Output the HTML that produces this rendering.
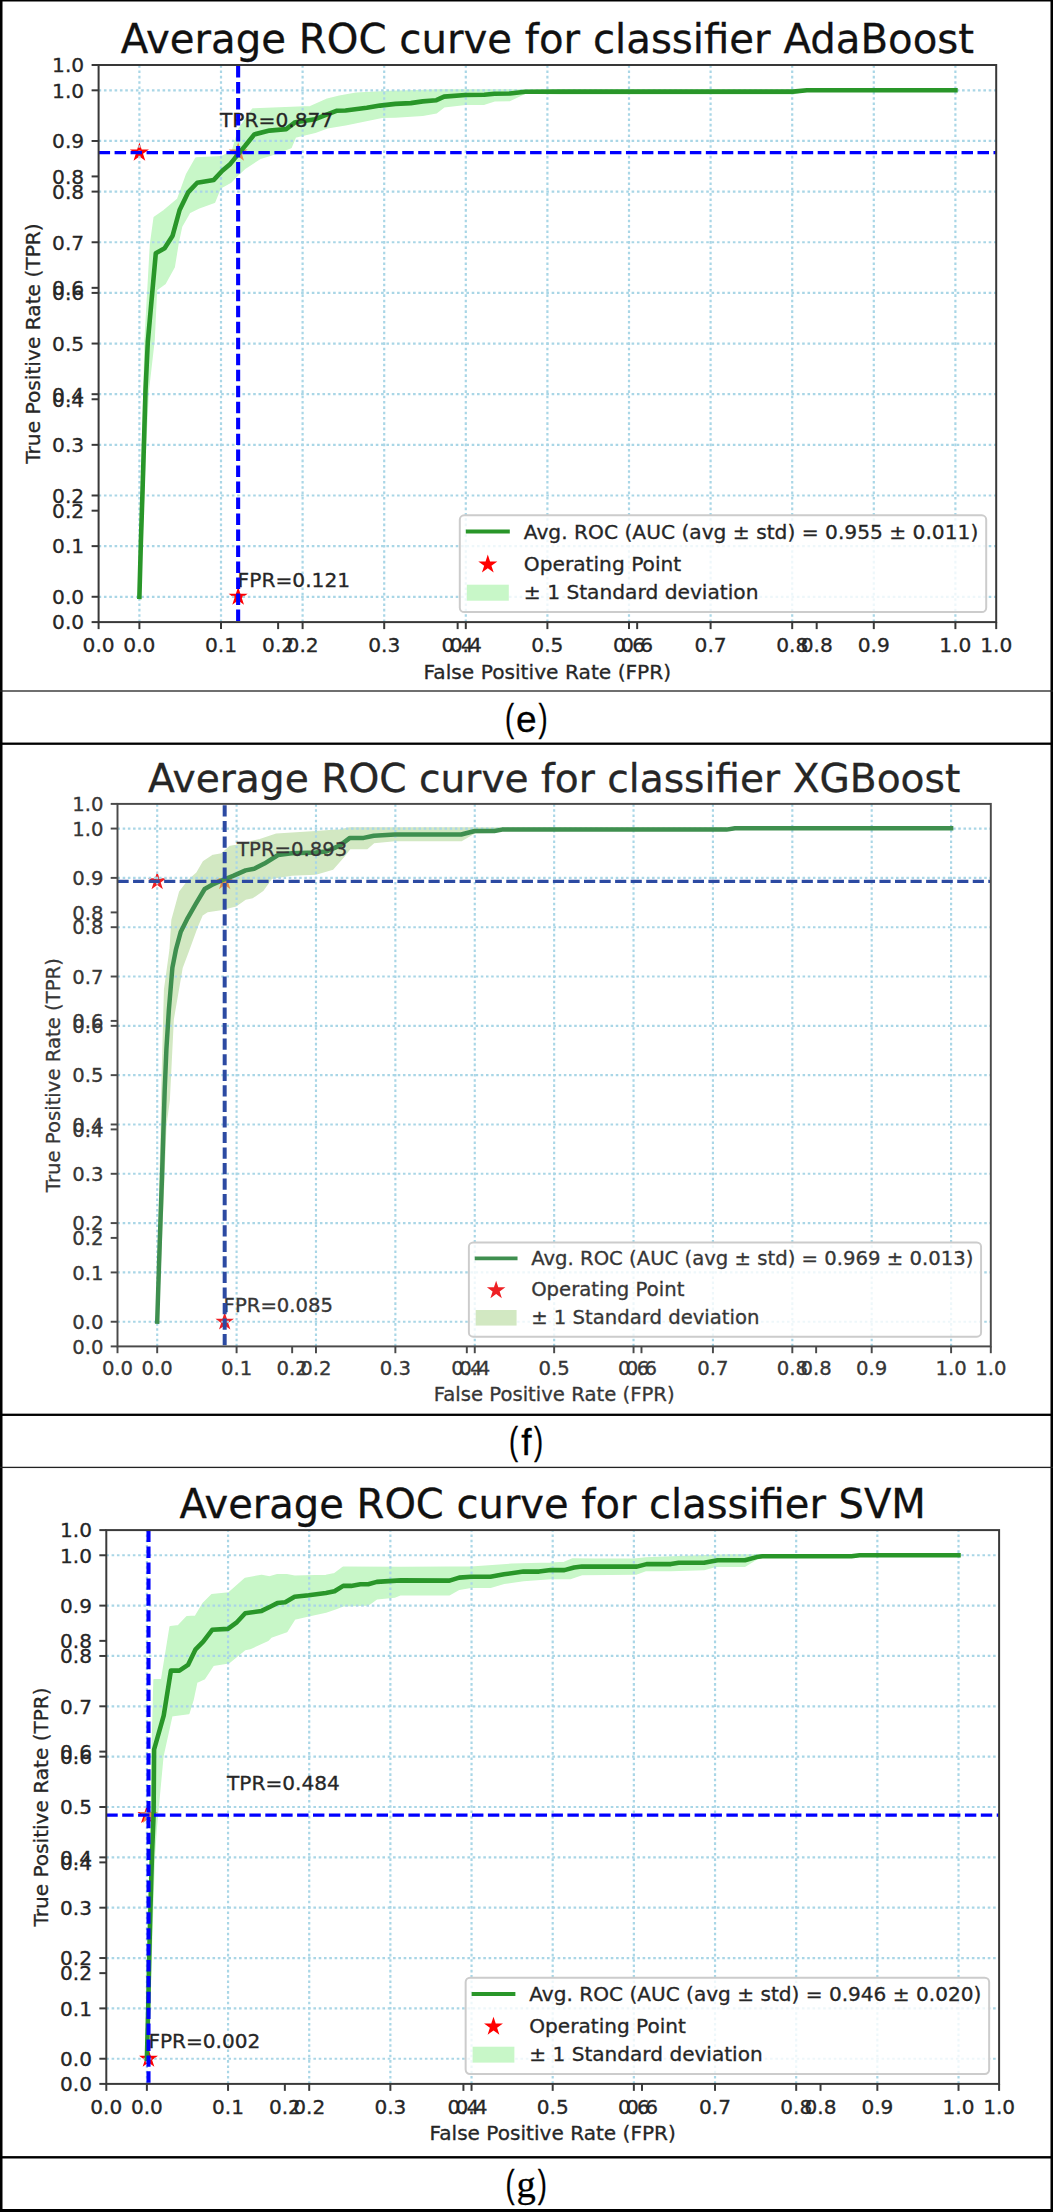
<!DOCTYPE html><html><head><meta charset="utf-8"><title>ROC curves</title><style>
html,body{margin:0;padding:0;background:#fff;}body{width:1053px;height:2212px;overflow:hidden;}
svg{display:block;}
svg text{font-family:'DejaVu Sans', 'Liberation Sans', sans-serif;stroke-width:0.3px;paint-order:stroke;}
.cap{font-family:"Liberation Sans",Arial,sans-serif;}
</style></head><body>
<svg width="1053" height="2212" viewBox="0 0 1053 2212">
<rect x="0" y="0" width="1053" height="2212" fill="#fff"/>
<g>
<clipPath id="c1"><rect x="98.6" y="65" width="897.6" height="557.1"/></clipPath>
<g clip-path="url(#c1)">
<path d="M139.4,596.8 L140.2,544.7 L141.6,491.8 L142.9,441.8 L144.2,390.6 L145.4,340 L150.8,244.5 L154.5,217.5 L164.2,210.7 L177.9,199.3 L187,174.2 L196.1,158.2 L221.2,157.1 L232.6,151.4 L239.1,129.1 L252.8,109.3 L310.5,107 L327.3,99.4 L339.4,96.4 L356.1,93.4 L390,91.8 L440,90.3 L955.4,90.3 L955.4,90.3 L806.9,90.3 L792.9,93.5 L560,93.5 L525.3,92.8 L509.9,100.2 L494.5,100.5 L484.3,103.9 L465.5,103.9 L444.1,106.5 L436.4,112.5 L422.7,115 L395.4,116.8 L382,116.9 L345.5,124.5 L327.3,127.6 L315.1,132.1 L295.3,136.7 L290.8,147.3 L275.6,153.4 L260.4,158 L245.2,167.8 L237.1,175.3 L230.3,182.2 L220,187.9 L214.3,202.1 L198.4,207.8 L189.3,212.4 L181.3,226.6 L177.9,242.6 L173.9,267.1 L164.8,283.4 L156.2,289.7 L153.8,340 L148,390.6 L145.5,441.8 L143.5,491.8 L141.5,544.7 L139.4,596.8 Z" fill="#c8f7c8" stroke="#c8f7c8" stroke-width="2" stroke-linejoin="round"/>
<path d="M139.4,142.62 L137.15,149.53 L129.89,149.53 L135.77,153.8 L133.52,160.71 L139.4,156.44 L145.28,160.71 L143.03,153.8 L148.91,149.53 L141.65,149.53 Z" fill="#ff0000"/>
<path d="M238.14,586.78 L235.89,593.69 L228.63,593.69 L234.5,597.96 L232.26,604.87 L238.14,600.6 L244.01,604.87 L241.77,597.96 L247.65,593.69 L240.38,593.69 Z" fill="#ff0000"/>
<path d="M238.14,142.62 L235.89,149.53 L228.63,149.53 L234.5,153.8 L232.26,160.71 L238.14,156.44 L244.01,160.71 L241.77,153.8 L247.65,149.53 L240.38,149.53 Z" fill="#e58a4e"/>
<line x1="139.4" y1="622.1" x2="139.4" y2="65" stroke="#a9d6e6" stroke-width="2.2" stroke-dasharray="2.6 2.73"/>
<line x1="98.6" y1="596.78" x2="996.2" y2="596.78" stroke="#a9d6e6" stroke-width="2.2" stroke-dasharray="2.6 2.73"/>
<line x1="221" y1="622.1" x2="221" y2="65" stroke="#a9d6e6" stroke-width="2.2" stroke-dasharray="2.6 2.73"/>
<line x1="98.6" y1="546.13" x2="996.2" y2="546.13" stroke="#a9d6e6" stroke-width="2.2" stroke-dasharray="2.6 2.73"/>
<line x1="302.6" y1="622.1" x2="302.6" y2="65" stroke="#a9d6e6" stroke-width="2.2" stroke-dasharray="2.6 2.73"/>
<line x1="98.6" y1="495.49" x2="996.2" y2="495.49" stroke="#a9d6e6" stroke-width="2.2" stroke-dasharray="2.6 2.73"/>
<line x1="384.2" y1="622.1" x2="384.2" y2="65" stroke="#a9d6e6" stroke-width="2.2" stroke-dasharray="2.6 2.73"/>
<line x1="98.6" y1="444.84" x2="996.2" y2="444.84" stroke="#a9d6e6" stroke-width="2.2" stroke-dasharray="2.6 2.73"/>
<line x1="465.8" y1="622.1" x2="465.8" y2="65" stroke="#a9d6e6" stroke-width="2.2" stroke-dasharray="2.6 2.73"/>
<line x1="98.6" y1="394.2" x2="996.2" y2="394.2" stroke="#a9d6e6" stroke-width="2.2" stroke-dasharray="2.6 2.73"/>
<line x1="547.4" y1="622.1" x2="547.4" y2="65" stroke="#a9d6e6" stroke-width="2.2" stroke-dasharray="2.6 2.73"/>
<line x1="98.6" y1="343.55" x2="996.2" y2="343.55" stroke="#a9d6e6" stroke-width="2.2" stroke-dasharray="2.6 2.73"/>
<line x1="629" y1="622.1" x2="629" y2="65" stroke="#a9d6e6" stroke-width="2.2" stroke-dasharray="2.6 2.73"/>
<line x1="98.6" y1="292.9" x2="996.2" y2="292.9" stroke="#a9d6e6" stroke-width="2.2" stroke-dasharray="2.6 2.73"/>
<line x1="710.6" y1="622.1" x2="710.6" y2="65" stroke="#a9d6e6" stroke-width="2.2" stroke-dasharray="2.6 2.73"/>
<line x1="98.6" y1="242.26" x2="996.2" y2="242.26" stroke="#a9d6e6" stroke-width="2.2" stroke-dasharray="2.6 2.73"/>
<line x1="792.2" y1="622.1" x2="792.2" y2="65" stroke="#a9d6e6" stroke-width="2.2" stroke-dasharray="2.6 2.73"/>
<line x1="98.6" y1="191.61" x2="996.2" y2="191.61" stroke="#a9d6e6" stroke-width="2.2" stroke-dasharray="2.6 2.73"/>
<line x1="873.8" y1="622.1" x2="873.8" y2="65" stroke="#a9d6e6" stroke-width="2.2" stroke-dasharray="2.6 2.73"/>
<line x1="98.6" y1="140.97" x2="996.2" y2="140.97" stroke="#a9d6e6" stroke-width="2.2" stroke-dasharray="2.6 2.73"/>
<line x1="955.4" y1="622.1" x2="955.4" y2="65" stroke="#a9d6e6" stroke-width="2.2" stroke-dasharray="2.6 2.73"/>
<line x1="98.6" y1="90.32" x2="996.2" y2="90.32" stroke="#a9d6e6" stroke-width="2.2" stroke-dasharray="2.6 2.73"/>
<path d="M139.4,596.8 L140.8,544.7 L142.5,491.8 L144,441.8 L145.5,390.6 L147.8,342 L155.8,253.2 L164.6,248.3 L172.6,235.7 L179.6,210 L188.1,192.4 L197.2,182.7 L213.8,179.9 L222.3,170.8 L230.3,163.9 L237.6,154.9 L245.2,145.8 L254.3,134.4 L269.5,130.6 L286.2,129.1 L295.3,122.2 L315.1,119.2 L336.4,110.8 L345.5,110.5 L366.8,107.8 L380,105.6 L395.4,103.9 L410.8,103.1 L422.7,101.4 L436.4,100.2 L444.1,96.6 L465.5,95 L484.3,94.8 L494.5,93.7 L509.9,93.5 L525.3,91.8 L560,91.6 L792.9,91.6 L806.9,90.3 L955.4,90.3" fill="none" stroke="#299629" stroke-width="4.6" stroke-linejoin="round" stroke-linecap="square"/>
</g>
<text x="220" y="126.5" font-size="20.2" fill="#262626" stroke="#262626">TPR=0.877</text>
<text x="237.6" y="586.6" font-size="20.2" fill="#262626" stroke="#262626">FPR=0.121</text>
<g clip-path="url(#c1)">
<line x1="98.6" y1="152.62" x2="996.2" y2="152.62" stroke="#0000ff" stroke-width="3.3" stroke-dasharray="11.48 4.5"/>
<line x1="238.14" y1="620.9" x2="238.14" y2="65" stroke="#0000ff" stroke-width="4.1" stroke-dasharray="11.48 4.5"/>
</g>
<rect x="98.6" y="65" width="897.6" height="557.1" fill="none" stroke="#383838" stroke-width="2"/>
<line x1="98.6" y1="622.1" x2="98.6" y2="629.1" stroke="#383838" stroke-width="2"/>
<text x="98.6" y="652" font-size="20.2" fill="#262626" stroke="#262626" text-anchor="middle">0.0</text>
<line x1="91.6" y1="622.1" x2="98.6" y2="622.1" stroke="#383838" stroke-width="2"/>
<text x="84.2" y="629.46" font-size="20.2" fill="#262626" stroke="#262626" text-anchor="end">0.0</text>
<line x1="278.12" y1="622.1" x2="278.12" y2="629.1" stroke="#383838" stroke-width="2"/>
<text x="278.12" y="652" font-size="20.2" fill="#262626" stroke="#262626" text-anchor="middle">0.2</text>
<line x1="91.6" y1="510.68" x2="98.6" y2="510.68" stroke="#383838" stroke-width="2"/>
<text x="84.2" y="518.04" font-size="20.2" fill="#262626" stroke="#262626" text-anchor="end">0.2</text>
<line x1="457.64" y1="622.1" x2="457.64" y2="629.1" stroke="#383838" stroke-width="2"/>
<text x="457.64" y="652" font-size="20.2" fill="#262626" stroke="#262626" text-anchor="middle">0.4</text>
<line x1="91.6" y1="399.26" x2="98.6" y2="399.26" stroke="#383838" stroke-width="2"/>
<text x="84.2" y="406.62" font-size="20.2" fill="#262626" stroke="#262626" text-anchor="end">0.4</text>
<line x1="637.16" y1="622.1" x2="637.16" y2="629.1" stroke="#383838" stroke-width="2"/>
<text x="637.16" y="652" font-size="20.2" fill="#262626" stroke="#262626" text-anchor="middle">0.6</text>
<line x1="91.6" y1="287.84" x2="98.6" y2="287.84" stroke="#383838" stroke-width="2"/>
<text x="84.2" y="295.2" font-size="20.2" fill="#262626" stroke="#262626" text-anchor="end">0.6</text>
<line x1="816.68" y1="622.1" x2="816.68" y2="629.1" stroke="#383838" stroke-width="2"/>
<text x="816.68" y="652" font-size="20.2" fill="#262626" stroke="#262626" text-anchor="middle">0.8</text>
<line x1="91.6" y1="176.42" x2="98.6" y2="176.42" stroke="#383838" stroke-width="2"/>
<text x="84.2" y="183.78" font-size="20.2" fill="#262626" stroke="#262626" text-anchor="end">0.8</text>
<line x1="996.2" y1="622.1" x2="996.2" y2="629.1" stroke="#383838" stroke-width="2"/>
<text x="996.2" y="652" font-size="20.2" fill="#262626" stroke="#262626" text-anchor="middle">1.0</text>
<line x1="91.6" y1="65" x2="98.6" y2="65" stroke="#383838" stroke-width="2"/>
<text x="84.2" y="72.36" font-size="20.2" fill="#262626" stroke="#262626" text-anchor="end">1.0</text>
<line x1="139.4" y1="622.1" x2="139.4" y2="629.1" stroke="#383838" stroke-width="2"/>
<text x="139.4" y="652" font-size="20.2" fill="#262626" stroke="#262626" text-anchor="middle">0.0</text>
<line x1="91.6" y1="596.78" x2="98.6" y2="596.78" stroke="#383838" stroke-width="2"/>
<text x="84.2" y="604.14" font-size="20.2" fill="#262626" stroke="#262626" text-anchor="end">0.0</text>
<line x1="221" y1="622.1" x2="221" y2="629.1" stroke="#383838" stroke-width="2"/>
<text x="221" y="652" font-size="20.2" fill="#262626" stroke="#262626" text-anchor="middle">0.1</text>
<line x1="91.6" y1="546.13" x2="98.6" y2="546.13" stroke="#383838" stroke-width="2"/>
<text x="84.2" y="553.49" font-size="20.2" fill="#262626" stroke="#262626" text-anchor="end">0.1</text>
<line x1="302.6" y1="622.1" x2="302.6" y2="629.1" stroke="#383838" stroke-width="2"/>
<text x="302.6" y="652" font-size="20.2" fill="#262626" stroke="#262626" text-anchor="middle">0.2</text>
<line x1="91.6" y1="495.49" x2="98.6" y2="495.49" stroke="#383838" stroke-width="2"/>
<text x="84.2" y="502.85" font-size="20.2" fill="#262626" stroke="#262626" text-anchor="end">0.2</text>
<line x1="384.2" y1="622.1" x2="384.2" y2="629.1" stroke="#383838" stroke-width="2"/>
<text x="384.2" y="652" font-size="20.2" fill="#262626" stroke="#262626" text-anchor="middle">0.3</text>
<line x1="91.6" y1="444.84" x2="98.6" y2="444.84" stroke="#383838" stroke-width="2"/>
<text x="84.2" y="452.2" font-size="20.2" fill="#262626" stroke="#262626" text-anchor="end">0.3</text>
<line x1="465.8" y1="622.1" x2="465.8" y2="629.1" stroke="#383838" stroke-width="2"/>
<text x="465.8" y="652" font-size="20.2" fill="#262626" stroke="#262626" text-anchor="middle">0.4</text>
<line x1="91.6" y1="394.2" x2="98.6" y2="394.2" stroke="#383838" stroke-width="2"/>
<text x="84.2" y="401.56" font-size="20.2" fill="#262626" stroke="#262626" text-anchor="end">0.4</text>
<line x1="547.4" y1="622.1" x2="547.4" y2="629.1" stroke="#383838" stroke-width="2"/>
<text x="547.4" y="652" font-size="20.2" fill="#262626" stroke="#262626" text-anchor="middle">0.5</text>
<line x1="91.6" y1="343.55" x2="98.6" y2="343.55" stroke="#383838" stroke-width="2"/>
<text x="84.2" y="350.91" font-size="20.2" fill="#262626" stroke="#262626" text-anchor="end">0.5</text>
<line x1="629" y1="622.1" x2="629" y2="629.1" stroke="#383838" stroke-width="2"/>
<text x="629" y="652" font-size="20.2" fill="#262626" stroke="#262626" text-anchor="middle">0.6</text>
<line x1="91.6" y1="292.9" x2="98.6" y2="292.9" stroke="#383838" stroke-width="2"/>
<text x="84.2" y="300.27" font-size="20.2" fill="#262626" stroke="#262626" text-anchor="end">0.6</text>
<line x1="710.6" y1="622.1" x2="710.6" y2="629.1" stroke="#383838" stroke-width="2"/>
<text x="710.6" y="652" font-size="20.2" fill="#262626" stroke="#262626" text-anchor="middle">0.7</text>
<line x1="91.6" y1="242.26" x2="98.6" y2="242.26" stroke="#383838" stroke-width="2"/>
<text x="84.2" y="249.62" font-size="20.2" fill="#262626" stroke="#262626" text-anchor="end">0.7</text>
<line x1="792.2" y1="622.1" x2="792.2" y2="629.1" stroke="#383838" stroke-width="2"/>
<text x="792.2" y="652" font-size="20.2" fill="#262626" stroke="#262626" text-anchor="middle">0.8</text>
<line x1="91.6" y1="191.61" x2="98.6" y2="191.61" stroke="#383838" stroke-width="2"/>
<text x="84.2" y="198.98" font-size="20.2" fill="#262626" stroke="#262626" text-anchor="end">0.8</text>
<line x1="873.8" y1="622.1" x2="873.8" y2="629.1" stroke="#383838" stroke-width="2"/>
<text x="873.8" y="652" font-size="20.2" fill="#262626" stroke="#262626" text-anchor="middle">0.9</text>
<line x1="91.6" y1="140.97" x2="98.6" y2="140.97" stroke="#383838" stroke-width="2"/>
<text x="84.2" y="148.33" font-size="20.2" fill="#262626" stroke="#262626" text-anchor="end">0.9</text>
<line x1="955.4" y1="622.1" x2="955.4" y2="629.1" stroke="#383838" stroke-width="2"/>
<text x="955.4" y="652" font-size="20.2" fill="#262626" stroke="#262626" text-anchor="middle">1.0</text>
<line x1="91.6" y1="90.32" x2="98.6" y2="90.32" stroke="#383838" stroke-width="2"/>
<text x="84.2" y="97.69" font-size="20.2" fill="#262626" stroke="#262626" text-anchor="end">1.0</text>
<text x="547.4" y="678.7" font-size="20.2" fill="#262626" stroke="#262626" text-anchor="middle">False Positive Rate (FPR)</text>
<text x="39.6" y="343.55" font-size="20.2" fill="#262626" stroke="#262626" text-anchor="middle" transform="rotate(-90 39.6 343.55)">True Positive Rate (TPR)</text>
<text x="547.4" y="52.6" font-size="40.24" fill="#111" stroke="#111" text-anchor="middle">Average ROC curve for classifier AdaBoost</text>
<rect x="459.8" y="515.3" width="526.4" height="96.8" rx="4.4" fill="#fff" fill-opacity="0.8" stroke="#ccc" stroke-width="2"/>
<line x1="467.8" y1="531.6" x2="507.8" y2="531.6" stroke="#299629" stroke-width="4" stroke-linecap="square"/>
<path d="M487.8,554.5 L485.55,561.41 L478.29,561.41 L484.17,565.68 L481.92,572.59 L487.8,568.32 L493.68,572.59 L491.43,565.68 L497.31,561.41 L490.05,561.41 Z" fill="#ff0000"/>
<rect x="467.8" y="585.7" width="40" height="14" fill="#c8f7c8" stroke="#c8f7c8" stroke-width="2"/>
<text x="523.8" y="538.5" font-size="20.2" fill="#262626" stroke="#262626">Avg. ROC (AUC (avg ± std) = 0.955 ± 0.011)</text>
<text x="523.8" y="570.7" font-size="20.2" fill="#262626" stroke="#262626">Operating Point</text>
<text x="523.8" y="598.9" font-size="20.2" fill="#262626" stroke="#262626">± 1 Standard deviation</text>
</g>
<g>
<clipPath id="c2"><rect x="117.5" y="803.9" width="873.3" height="542.5"/></clipPath>
<g clip-path="url(#c2)">
<path d="M157.2,1321.7 L158,1274.8 L159.2,1225.9 L160.4,1177 L161.6,1124.8 L161.9,1100.1 L164.9,989.4 L170.4,949.7 L172.3,920 L179.9,892.2 L188.5,880.8 L197,873.2 L203.7,861.8 L213.2,855.6 L221.7,854.2 L230.3,846.6 L236,845.6 L260,839.9 L276.4,834.5 L315.7,832 L339.7,830.3 L350,828.3 L951.1,828.3 L951.1,828.3 L735,828.3 L726.5,829.8 L502.1,829.8 L494.3,832.1 L474.8,832.5 L461.2,840.3 L395,840.3 L373.8,842.2 L367,848.2 L349.9,848.2 L343.1,856.8 L332.8,868.7 L315.7,873.8 L291.8,874.7 L271.3,878.1 L262.7,890.1 L252.5,897.3 L245.5,898.8 L236,905.5 L220.8,909.3 L207.5,911.2 L201.8,915 L196.8,926.8 L187.8,951.6 L181.8,967.6 L172.9,1019.3 L168.9,1100.1 L165.6,1124.8 L163.6,1177 L161.6,1225.9 L159.6,1274.8 L157.2,1321.7 Z" fill="#d2e8c2" stroke="#d2e8c2" stroke-width="1.95" stroke-linejoin="round"/>
<path d="M157.2,871.6 L155.01,878.32 L147.94,878.32 L153.66,882.48 L151.48,889.2 L157.2,885.05 L162.91,889.2 L160.73,882.48 L166.45,878.32 L159.38,878.32 Z" fill="#ee2024"/>
<path d="M224.68,1312.01 L222.49,1318.73 L215.42,1318.73 L221.14,1322.89 L218.96,1329.61 L224.68,1325.46 L230.4,1329.61 L228.21,1322.89 L233.93,1318.73 L226.86,1318.73 Z" fill="#ee2024"/>
<path d="M224.68,871.6 L222.49,878.32 L215.42,878.32 L221.14,882.48 L218.96,889.2 L224.68,885.05 L230.4,889.2 L228.21,882.48 L233.93,878.32 L226.86,878.32 Z" fill="#e0904a"/>
<line x1="157.2" y1="1346.4" x2="157.2" y2="803.9" stroke="#a9d6e6" stroke-width="2.14" stroke-dasharray="2.53 2.66"/>
<line x1="117.5" y1="1321.74" x2="990.8" y2="1321.74" stroke="#a9d6e6" stroke-width="2.14" stroke-dasharray="2.53 2.66"/>
<line x1="236.59" y1="1346.4" x2="236.59" y2="803.9" stroke="#a9d6e6" stroke-width="2.14" stroke-dasharray="2.53 2.66"/>
<line x1="117.5" y1="1272.42" x2="990.8" y2="1272.42" stroke="#a9d6e6" stroke-width="2.14" stroke-dasharray="2.53 2.66"/>
<line x1="315.98" y1="1346.4" x2="315.98" y2="803.9" stroke="#a9d6e6" stroke-width="2.14" stroke-dasharray="2.53 2.66"/>
<line x1="117.5" y1="1223.1" x2="990.8" y2="1223.1" stroke="#a9d6e6" stroke-width="2.14" stroke-dasharray="2.53 2.66"/>
<line x1="395.37" y1="1346.4" x2="395.37" y2="803.9" stroke="#a9d6e6" stroke-width="2.14" stroke-dasharray="2.53 2.66"/>
<line x1="117.5" y1="1173.79" x2="990.8" y2="1173.79" stroke="#a9d6e6" stroke-width="2.14" stroke-dasharray="2.53 2.66"/>
<line x1="474.76" y1="1346.4" x2="474.76" y2="803.9" stroke="#a9d6e6" stroke-width="2.14" stroke-dasharray="2.53 2.66"/>
<line x1="117.5" y1="1124.47" x2="990.8" y2="1124.47" stroke="#a9d6e6" stroke-width="2.14" stroke-dasharray="2.53 2.66"/>
<line x1="554.15" y1="1346.4" x2="554.15" y2="803.9" stroke="#a9d6e6" stroke-width="2.14" stroke-dasharray="2.53 2.66"/>
<line x1="117.5" y1="1075.15" x2="990.8" y2="1075.15" stroke="#a9d6e6" stroke-width="2.14" stroke-dasharray="2.53 2.66"/>
<line x1="633.54" y1="1346.4" x2="633.54" y2="803.9" stroke="#a9d6e6" stroke-width="2.14" stroke-dasharray="2.53 2.66"/>
<line x1="117.5" y1="1025.83" x2="990.8" y2="1025.83" stroke="#a9d6e6" stroke-width="2.14" stroke-dasharray="2.53 2.66"/>
<line x1="712.93" y1="1346.4" x2="712.93" y2="803.9" stroke="#a9d6e6" stroke-width="2.14" stroke-dasharray="2.53 2.66"/>
<line x1="117.5" y1="976.51" x2="990.8" y2="976.51" stroke="#a9d6e6" stroke-width="2.14" stroke-dasharray="2.53 2.66"/>
<line x1="792.32" y1="1346.4" x2="792.32" y2="803.9" stroke="#a9d6e6" stroke-width="2.14" stroke-dasharray="2.53 2.66"/>
<line x1="117.5" y1="927.2" x2="990.8" y2="927.2" stroke="#a9d6e6" stroke-width="2.14" stroke-dasharray="2.53 2.66"/>
<line x1="871.71" y1="1346.4" x2="871.71" y2="803.9" stroke="#a9d6e6" stroke-width="2.14" stroke-dasharray="2.53 2.66"/>
<line x1="117.5" y1="877.88" x2="990.8" y2="877.88" stroke="#a9d6e6" stroke-width="2.14" stroke-dasharray="2.53 2.66"/>
<line x1="951.1" y1="1346.4" x2="951.1" y2="803.9" stroke="#a9d6e6" stroke-width="2.14" stroke-dasharray="2.53 2.66"/>
<line x1="117.5" y1="828.56" x2="990.8" y2="828.56" stroke="#a9d6e6" stroke-width="2.14" stroke-dasharray="2.53 2.66"/>
<path d="M157.2,1321.7 L158.7,1274.8 L160.3,1225.9 L162,1177 L163.6,1124.8 L164.7,1090 L166.4,1049.2 L168.9,1009.4 L172.4,967.6 L175.9,949.7 L180.8,931.7 L187.8,917.8 L195.8,903.9 L204.7,889 L211.7,885 L223.4,879.8 L233.7,875.6 L245.6,870.4 L254.2,868.7 L264.4,863.6 L278.1,855 L291.8,853.3 L315.7,852.5 L326,851.6 L339.7,845.6 L349.9,837.9 L363.6,837.9 L373.8,835.7 L395,834.5 L461.2,834.5 L474.8,831 L494.3,831 L502.1,829.6 L726.5,829.6 L735,828.3 L951.1,828.3" fill="none" stroke="#3f8f4f" stroke-width="4.48" stroke-linejoin="round" stroke-linecap="square"/>
</g>
<text x="237.1" y="856.2" font-size="19.65" fill="#363636" stroke="#363636">TPR=0.893</text>
<text x="223.6" y="1311.7" font-size="19.65" fill="#363636" stroke="#363636">FPR=0.085</text>
<g clip-path="url(#c2)">
<line x1="117.5" y1="881.33" x2="990.8" y2="881.33" stroke="#2c4aa2" stroke-width="3.21" stroke-dasharray="11.17 4.38"/>
<line x1="224.68" y1="1345.23" x2="224.68" y2="803.9" stroke="#2c4aa2" stroke-width="3.99" stroke-dasharray="11.17 4.38"/>
</g>
<rect x="117.5" y="803.9" width="873.3" height="542.5" fill="none" stroke="#4a4a4a" stroke-width="1.95"/>
<line x1="117.5" y1="1346.4" x2="117.5" y2="1353.21" stroke="#4a4a4a" stroke-width="1.95"/>
<text x="117.5" y="1375.49" font-size="19.65" fill="#363636" stroke="#363636" text-anchor="middle">0.0</text>
<line x1="110.69" y1="1346.4" x2="117.5" y2="1346.4" stroke="#4a4a4a" stroke-width="1.95"/>
<text x="103.49" y="1353.56" font-size="19.65" fill="#363636" stroke="#363636" text-anchor="end">0.0</text>
<line x1="292.16" y1="1346.4" x2="292.16" y2="1353.21" stroke="#4a4a4a" stroke-width="1.95"/>
<text x="292.16" y="1375.49" font-size="19.65" fill="#363636" stroke="#363636" text-anchor="middle">0.2</text>
<line x1="110.69" y1="1237.9" x2="117.5" y2="1237.9" stroke="#4a4a4a" stroke-width="1.95"/>
<text x="103.49" y="1245.06" font-size="19.65" fill="#363636" stroke="#363636" text-anchor="end">0.2</text>
<line x1="466.82" y1="1346.4" x2="466.82" y2="1353.21" stroke="#4a4a4a" stroke-width="1.95"/>
<text x="466.82" y="1375.49" font-size="19.65" fill="#363636" stroke="#363636" text-anchor="middle">0.4</text>
<line x1="110.69" y1="1129.4" x2="117.5" y2="1129.4" stroke="#4a4a4a" stroke-width="1.95"/>
<text x="103.49" y="1136.56" font-size="19.65" fill="#363636" stroke="#363636" text-anchor="end">0.4</text>
<line x1="641.48" y1="1346.4" x2="641.48" y2="1353.21" stroke="#4a4a4a" stroke-width="1.95"/>
<text x="641.48" y="1375.49" font-size="19.65" fill="#363636" stroke="#363636" text-anchor="middle">0.6</text>
<line x1="110.69" y1="1020.9" x2="117.5" y2="1020.9" stroke="#4a4a4a" stroke-width="1.95"/>
<text x="103.49" y="1028.06" font-size="19.65" fill="#363636" stroke="#363636" text-anchor="end">0.6</text>
<line x1="816.14" y1="1346.4" x2="816.14" y2="1353.21" stroke="#4a4a4a" stroke-width="1.95"/>
<text x="816.14" y="1375.49" font-size="19.65" fill="#363636" stroke="#363636" text-anchor="middle">0.8</text>
<line x1="110.69" y1="912.4" x2="117.5" y2="912.4" stroke="#4a4a4a" stroke-width="1.95"/>
<text x="103.49" y="919.56" font-size="19.65" fill="#363636" stroke="#363636" text-anchor="end">0.8</text>
<line x1="990.8" y1="1346.4" x2="990.8" y2="1353.21" stroke="#4a4a4a" stroke-width="1.95"/>
<text x="990.8" y="1375.49" font-size="19.65" fill="#363636" stroke="#363636" text-anchor="middle">1.0</text>
<line x1="110.69" y1="803.9" x2="117.5" y2="803.9" stroke="#4a4a4a" stroke-width="1.95"/>
<text x="103.49" y="811.06" font-size="19.65" fill="#363636" stroke="#363636" text-anchor="end">1.0</text>
<line x1="157.2" y1="1346.4" x2="157.2" y2="1353.21" stroke="#4a4a4a" stroke-width="1.95"/>
<text x="157.2" y="1375.49" font-size="19.65" fill="#363636" stroke="#363636" text-anchor="middle">0.0</text>
<line x1="110.69" y1="1321.74" x2="117.5" y2="1321.74" stroke="#4a4a4a" stroke-width="1.95"/>
<text x="103.49" y="1328.91" font-size="19.65" fill="#363636" stroke="#363636" text-anchor="end">0.0</text>
<line x1="236.59" y1="1346.4" x2="236.59" y2="1353.21" stroke="#4a4a4a" stroke-width="1.95"/>
<text x="236.59" y="1375.49" font-size="19.65" fill="#363636" stroke="#363636" text-anchor="middle">0.1</text>
<line x1="110.69" y1="1272.42" x2="117.5" y2="1272.42" stroke="#4a4a4a" stroke-width="1.95"/>
<text x="103.49" y="1279.59" font-size="19.65" fill="#363636" stroke="#363636" text-anchor="end">0.1</text>
<line x1="315.98" y1="1346.4" x2="315.98" y2="1353.21" stroke="#4a4a4a" stroke-width="1.95"/>
<text x="315.98" y="1375.49" font-size="19.65" fill="#363636" stroke="#363636" text-anchor="middle">0.2</text>
<line x1="110.69" y1="1223.1" x2="117.5" y2="1223.1" stroke="#4a4a4a" stroke-width="1.95"/>
<text x="103.49" y="1230.27" font-size="19.65" fill="#363636" stroke="#363636" text-anchor="end">0.2</text>
<line x1="395.37" y1="1346.4" x2="395.37" y2="1353.21" stroke="#4a4a4a" stroke-width="1.95"/>
<text x="395.37" y="1375.49" font-size="19.65" fill="#363636" stroke="#363636" text-anchor="middle">0.3</text>
<line x1="110.69" y1="1173.79" x2="117.5" y2="1173.79" stroke="#4a4a4a" stroke-width="1.95"/>
<text x="103.49" y="1180.95" font-size="19.65" fill="#363636" stroke="#363636" text-anchor="end">0.3</text>
<line x1="474.76" y1="1346.4" x2="474.76" y2="1353.21" stroke="#4a4a4a" stroke-width="1.95"/>
<text x="474.76" y="1375.49" font-size="19.65" fill="#363636" stroke="#363636" text-anchor="middle">0.4</text>
<line x1="110.69" y1="1124.47" x2="117.5" y2="1124.47" stroke="#4a4a4a" stroke-width="1.95"/>
<text x="103.49" y="1131.63" font-size="19.65" fill="#363636" stroke="#363636" text-anchor="end">0.4</text>
<line x1="554.15" y1="1346.4" x2="554.15" y2="1353.21" stroke="#4a4a4a" stroke-width="1.95"/>
<text x="554.15" y="1375.49" font-size="19.65" fill="#363636" stroke="#363636" text-anchor="middle">0.5</text>
<line x1="110.69" y1="1075.15" x2="117.5" y2="1075.15" stroke="#4a4a4a" stroke-width="1.95"/>
<text x="103.49" y="1082.31" font-size="19.65" fill="#363636" stroke="#363636" text-anchor="end">0.5</text>
<line x1="633.54" y1="1346.4" x2="633.54" y2="1353.21" stroke="#4a4a4a" stroke-width="1.95"/>
<text x="633.54" y="1375.49" font-size="19.65" fill="#363636" stroke="#363636" text-anchor="middle">0.6</text>
<line x1="110.69" y1="1025.83" x2="117.5" y2="1025.83" stroke="#4a4a4a" stroke-width="1.95"/>
<text x="103.49" y="1033" font-size="19.65" fill="#363636" stroke="#363636" text-anchor="end">0.6</text>
<line x1="712.93" y1="1346.4" x2="712.93" y2="1353.21" stroke="#4a4a4a" stroke-width="1.95"/>
<text x="712.93" y="1375.49" font-size="19.65" fill="#363636" stroke="#363636" text-anchor="middle">0.7</text>
<line x1="110.69" y1="976.51" x2="117.5" y2="976.51" stroke="#4a4a4a" stroke-width="1.95"/>
<text x="103.49" y="983.68" font-size="19.65" fill="#363636" stroke="#363636" text-anchor="end">0.7</text>
<line x1="792.32" y1="1346.4" x2="792.32" y2="1353.21" stroke="#4a4a4a" stroke-width="1.95"/>
<text x="792.32" y="1375.49" font-size="19.65" fill="#363636" stroke="#363636" text-anchor="middle">0.8</text>
<line x1="110.69" y1="927.2" x2="117.5" y2="927.2" stroke="#4a4a4a" stroke-width="1.95"/>
<text x="103.49" y="934.36" font-size="19.65" fill="#363636" stroke="#363636" text-anchor="end">0.8</text>
<line x1="871.71" y1="1346.4" x2="871.71" y2="1353.21" stroke="#4a4a4a" stroke-width="1.95"/>
<text x="871.71" y="1375.49" font-size="19.65" fill="#363636" stroke="#363636" text-anchor="middle">0.9</text>
<line x1="110.69" y1="877.88" x2="117.5" y2="877.88" stroke="#4a4a4a" stroke-width="1.95"/>
<text x="103.49" y="885.04" font-size="19.65" fill="#363636" stroke="#363636" text-anchor="end">0.9</text>
<line x1="951.1" y1="1346.4" x2="951.1" y2="1353.21" stroke="#4a4a4a" stroke-width="1.95"/>
<text x="951.1" y="1375.49" font-size="19.65" fill="#363636" stroke="#363636" text-anchor="middle">1.0</text>
<line x1="110.69" y1="828.56" x2="117.5" y2="828.56" stroke="#4a4a4a" stroke-width="1.95"/>
<text x="103.49" y="835.72" font-size="19.65" fill="#363636" stroke="#363636" text-anchor="end">1.0</text>
<text x="554.15" y="1401.47" font-size="19.65" fill="#363636" stroke="#363636" text-anchor="middle">False Positive Rate (FPR)</text>
<text x="60.09" y="1075.15" font-size="19.65" fill="#363636" stroke="#363636" text-anchor="middle" transform="rotate(-90 60.09 1075.15)">True Positive Rate (TPR)</text>
<text x="554.15" y="791.83" font-size="39.15" fill="#262626" stroke="#262626" text-anchor="middle">Average ROC curve for classifier XGBoost</text>
<rect x="468.88" y="1242.48" width="512.19" height="94.19" rx="4.28" fill="#fff" fill-opacity="0.8" stroke="#ccc" stroke-width="1.95"/>
<line x1="476.67" y1="1258.34" x2="515.59" y2="1258.34" stroke="#3f8f4f" stroke-width="3.89" stroke-linecap="square"/>
<path d="M496.13,1280.63 L493.94,1287.35 L486.87,1287.35 L492.59,1291.5 L490.41,1298.23 L496.13,1294.07 L501.85,1298.23 L499.66,1291.5 L505.38,1287.35 L498.31,1287.35 Z" fill="#ee2024"/>
<rect x="476.67" y="1310.98" width="38.92" height="13.62" fill="#d2e8c2" stroke="#d2e8c2" stroke-width="1.95"/>
<text x="531.15" y="1265.06" font-size="19.65" fill="#363636" stroke="#363636">Avg. ROC (AUC (avg ± std) = 0.969 ± 0.013)</text>
<text x="531.15" y="1296.39" font-size="19.65" fill="#363636" stroke="#363636">Operating Point</text>
<text x="531.15" y="1323.83" font-size="19.65" fill="#363636" stroke="#363636">± 1 Standard deviation</text>
</g>
<g>
<clipPath id="c3"><rect x="106.3" y="1530.1" width="892.8" height="553.8"/></clipPath>
<g clip-path="url(#c3)">
<path d="M146.9,2058.7 L147,2007.6 L147.8,1958.7 L148.8,1909.9 L150.2,1857.4 L151.6,1815 L152.5,1749.5 L153.8,1700 L154.3,1680.1 L161.9,1679.7 L170.4,1627 L178.5,1626 L187,1617 L195.6,1616.5 L203.2,1603.7 L211.7,1595.1 L228.8,1593.2 L245.2,1578.8 L261.6,1575.7 L269.5,1577.2 L277.3,1574.9 L286.7,1574.9 L294.6,1576.5 L325.9,1575.7 L334.5,1574.1 L343.2,1567.5 L400,1567.8 L449.5,1567.5 L470.9,1567.5 L511.8,1564.6 L550.7,1563.6 L564.4,1562.7 L572.1,1559.3 L595,1559.6 L633.9,1559.6 L645.6,1558.2 L711.8,1555.7 L730,1555.3 L958.5,1555.3 L958.5,1555.3 L859.6,1555.3 L851.5,1557.1 L762.4,1557.1 L756.6,1558.6 L744.9,1566 L715.7,1566 L704,1569.3 L670.9,1570.3 L645.6,1570.3 L635.9,1573.8 L581.9,1574.3 L570.2,1578.2 L550.7,1578.2 L523.5,1580.2 L504,1583.1 L490.4,1587 L470.9,1587 L459.2,1588.9 L449.5,1594.4 L400.8,1594.4 L395,1596.7 L376.8,1598.4 L368.2,1604.7 L343.2,1605.5 L335.3,1608.6 L325.9,1611.7 L308.7,1615.6 L294.6,1618.8 L286.7,1631.3 L271.1,1636.8 L267.9,1640.1 L250,1648.3 L245,1649.3 L228.8,1662.6 L213.2,1664.9 L204.1,1678.7 L196.5,1682 L192.7,1700 L188.6,1713.3 L171.6,1715.6 L162.6,1756.3 L155.8,1830 L154,1857.4 L152.3,1909.9 L150.8,1958.7 L149.5,2007.6 L146.9,2058.7 Z" fill="#c8f7c8" stroke="#c8f7c8" stroke-width="1.99" stroke-linejoin="round"/>
<path d="M146.88,1805.11 L144.65,1811.98 L137.42,1811.98 L143.27,1816.23 L141.04,1823.1 L146.88,1818.85 L152.73,1823.1 L150.49,1816.23 L156.34,1811.98 L149.11,1811.98 Z" fill="#ff0000"/>
<path d="M148.51,2048.78 L146.27,2055.65 L139.05,2055.65 L144.89,2059.9 L142.66,2066.77 L148.51,2062.53 L154.35,2066.77 L152.12,2059.9 L157.96,2055.65 L150.74,2055.65 Z" fill="#ff0000"/>
<path d="M148.51,1805.11 L146.27,1811.98 L139.05,1811.98 L144.89,1816.23 L142.66,1823.1 L148.51,1818.85 L154.35,1823.1 L152.12,1816.23 L157.96,1811.98 L150.74,1811.98 Z" fill="#e58a4e"/>
<line x1="146.88" y1="2083.9" x2="146.88" y2="1530.1" stroke="#a9d6e6" stroke-width="2.19" stroke-dasharray="2.59 2.72"/>
<line x1="106.3" y1="2058.73" x2="999.1" y2="2058.73" stroke="#a9d6e6" stroke-width="2.19" stroke-dasharray="2.59 2.72"/>
<line x1="228.05" y1="2083.9" x2="228.05" y2="1530.1" stroke="#a9d6e6" stroke-width="2.19" stroke-dasharray="2.59 2.72"/>
<line x1="106.3" y1="2008.38" x2="999.1" y2="2008.38" stroke="#a9d6e6" stroke-width="2.19" stroke-dasharray="2.59 2.72"/>
<line x1="309.21" y1="2083.9" x2="309.21" y2="1530.1" stroke="#a9d6e6" stroke-width="2.19" stroke-dasharray="2.59 2.72"/>
<line x1="106.3" y1="1958.04" x2="999.1" y2="1958.04" stroke="#a9d6e6" stroke-width="2.19" stroke-dasharray="2.59 2.72"/>
<line x1="390.37" y1="2083.9" x2="390.37" y2="1530.1" stroke="#a9d6e6" stroke-width="2.19" stroke-dasharray="2.59 2.72"/>
<line x1="106.3" y1="1907.69" x2="999.1" y2="1907.69" stroke="#a9d6e6" stroke-width="2.19" stroke-dasharray="2.59 2.72"/>
<line x1="471.54" y1="2083.9" x2="471.54" y2="1530.1" stroke="#a9d6e6" stroke-width="2.19" stroke-dasharray="2.59 2.72"/>
<line x1="106.3" y1="1857.35" x2="999.1" y2="1857.35" stroke="#a9d6e6" stroke-width="2.19" stroke-dasharray="2.59 2.72"/>
<line x1="552.7" y1="2083.9" x2="552.7" y2="1530.1" stroke="#a9d6e6" stroke-width="2.19" stroke-dasharray="2.59 2.72"/>
<line x1="106.3" y1="1807" x2="999.1" y2="1807" stroke="#a9d6e6" stroke-width="2.19" stroke-dasharray="2.59 2.72"/>
<line x1="633.86" y1="2083.9" x2="633.86" y2="1530.1" stroke="#a9d6e6" stroke-width="2.19" stroke-dasharray="2.59 2.72"/>
<line x1="106.3" y1="1756.65" x2="999.1" y2="1756.65" stroke="#a9d6e6" stroke-width="2.19" stroke-dasharray="2.59 2.72"/>
<line x1="715.03" y1="2083.9" x2="715.03" y2="1530.1" stroke="#a9d6e6" stroke-width="2.19" stroke-dasharray="2.59 2.72"/>
<line x1="106.3" y1="1706.31" x2="999.1" y2="1706.31" stroke="#a9d6e6" stroke-width="2.19" stroke-dasharray="2.59 2.72"/>
<line x1="796.19" y1="2083.9" x2="796.19" y2="1530.1" stroke="#a9d6e6" stroke-width="2.19" stroke-dasharray="2.59 2.72"/>
<line x1="106.3" y1="1655.96" x2="999.1" y2="1655.96" stroke="#a9d6e6" stroke-width="2.19" stroke-dasharray="2.59 2.72"/>
<line x1="877.35" y1="2083.9" x2="877.35" y2="1530.1" stroke="#a9d6e6" stroke-width="2.19" stroke-dasharray="2.59 2.72"/>
<line x1="106.3" y1="1605.62" x2="999.1" y2="1605.62" stroke="#a9d6e6" stroke-width="2.19" stroke-dasharray="2.59 2.72"/>
<line x1="958.52" y1="2083.9" x2="958.52" y2="1530.1" stroke="#a9d6e6" stroke-width="2.19" stroke-dasharray="2.59 2.72"/>
<line x1="106.3" y1="1555.27" x2="999.1" y2="1555.27" stroke="#a9d6e6" stroke-width="2.19" stroke-dasharray="2.59 2.72"/>
<path d="M146.9,2058.7 L148.2,2007.6 L149.2,1958.7 L150.4,1909.9 L151.9,1857.4 L153.6,1815 L154.1,1749.5 L163.7,1715.6 L170.9,1670.6 L179.4,1670.6 L188,1664.9 L195.6,1649.3 L203.2,1641.7 L212.2,1629.8 L227.9,1628.9 L236.4,1622.7 L245.2,1613.3 L261.6,1610.9 L271.1,1606.2 L277.3,1603.1 L285.2,1602.3 L294.6,1596.8 L308.7,1595.3 L325.9,1592.9 L334.5,1591.3 L343.2,1585.9 L351,1585.9 L360.4,1584.3 L368.2,1584.3 L376.8,1581.9 L400.8,1580.4 L449.5,1580.6 L459.2,1577.6 L470.9,1576.7 L490.4,1576.7 L504,1574.3 L523.5,1571.6 L539.1,1571.6 L550.7,1570.1 L564.4,1570.1 L574.1,1567.5 L581.9,1566.6 L636.9,1566.6 L646.6,1564.1 L670.9,1564.1 L678.7,1562.7 L704,1562.7 L717.6,1560.2 L744.9,1560.2 L756.6,1557.1 L762.4,1556.3 L851.5,1556.3 L859.6,1555.3 L958.5,1555.3" fill="none" stroke="#299629" stroke-width="4.57" stroke-linejoin="round" stroke-linecap="square"/>
</g>
<text x="227.1" y="1789.9" font-size="20.09" fill="#262626" stroke="#262626">TPR=0.484</text>
<text x="148.4" y="2047.9" font-size="20.09" fill="#262626" stroke="#262626">FPR=0.002</text>
<g clip-path="url(#c3)">
<line x1="106.3" y1="1815.06" x2="999.1" y2="1815.06" stroke="#0000ff" stroke-width="3.28" stroke-dasharray="11.42 4.48"/>
<line x1="148.51" y1="2082.71" x2="148.51" y2="1530.1" stroke="#0000ff" stroke-width="4.08" stroke-dasharray="11.42 4.48"/>
</g>
<rect x="106.3" y="1530.1" width="892.8" height="553.8" fill="none" stroke="#3a3a3a" stroke-width="1.99"/>
<line x1="106.3" y1="2083.9" x2="106.3" y2="2090.86" stroke="#3a3a3a" stroke-width="1.99"/>
<text x="106.3" y="2113.64" font-size="20.09" fill="#262626" stroke="#262626" text-anchor="middle">0.0</text>
<line x1="99.34" y1="2083.9" x2="106.3" y2="2083.9" stroke="#3a3a3a" stroke-width="1.99"/>
<text x="91.98" y="2091.22" font-size="20.09" fill="#262626" stroke="#262626" text-anchor="end">0.0</text>
<line x1="284.86" y1="2083.9" x2="284.86" y2="2090.86" stroke="#3a3a3a" stroke-width="1.99"/>
<text x="284.86" y="2113.64" font-size="20.09" fill="#262626" stroke="#262626" text-anchor="middle">0.2</text>
<line x1="99.34" y1="1973.14" x2="106.3" y2="1973.14" stroke="#3a3a3a" stroke-width="1.99"/>
<text x="91.98" y="1980.46" font-size="20.09" fill="#262626" stroke="#262626" text-anchor="end">0.2</text>
<line x1="463.42" y1="2083.9" x2="463.42" y2="2090.86" stroke="#3a3a3a" stroke-width="1.99"/>
<text x="463.42" y="2113.64" font-size="20.09" fill="#262626" stroke="#262626" text-anchor="middle">0.4</text>
<line x1="99.34" y1="1862.38" x2="106.3" y2="1862.38" stroke="#3a3a3a" stroke-width="1.99"/>
<text x="91.98" y="1869.7" font-size="20.09" fill="#262626" stroke="#262626" text-anchor="end">0.4</text>
<line x1="641.98" y1="2083.9" x2="641.98" y2="2090.86" stroke="#3a3a3a" stroke-width="1.99"/>
<text x="641.98" y="2113.64" font-size="20.09" fill="#262626" stroke="#262626" text-anchor="middle">0.6</text>
<line x1="99.34" y1="1751.62" x2="106.3" y2="1751.62" stroke="#3a3a3a" stroke-width="1.99"/>
<text x="91.98" y="1758.94" font-size="20.09" fill="#262626" stroke="#262626" text-anchor="end">0.6</text>
<line x1="820.54" y1="2083.9" x2="820.54" y2="2090.86" stroke="#3a3a3a" stroke-width="1.99"/>
<text x="820.54" y="2113.64" font-size="20.09" fill="#262626" stroke="#262626" text-anchor="middle">0.8</text>
<line x1="99.34" y1="1640.86" x2="106.3" y2="1640.86" stroke="#3a3a3a" stroke-width="1.99"/>
<text x="91.98" y="1648.18" font-size="20.09" fill="#262626" stroke="#262626" text-anchor="end">0.8</text>
<line x1="999.1" y1="2083.9" x2="999.1" y2="2090.86" stroke="#3a3a3a" stroke-width="1.99"/>
<text x="999.1" y="2113.64" font-size="20.09" fill="#262626" stroke="#262626" text-anchor="middle">1.0</text>
<line x1="99.34" y1="1530.1" x2="106.3" y2="1530.1" stroke="#3a3a3a" stroke-width="1.99"/>
<text x="91.98" y="1537.42" font-size="20.09" fill="#262626" stroke="#262626" text-anchor="end">1.0</text>
<line x1="146.88" y1="2083.9" x2="146.88" y2="2090.86" stroke="#3a3a3a" stroke-width="1.99"/>
<text x="146.88" y="2113.64" font-size="20.09" fill="#262626" stroke="#262626" text-anchor="middle">0.0</text>
<line x1="99.34" y1="2058.73" x2="106.3" y2="2058.73" stroke="#3a3a3a" stroke-width="1.99"/>
<text x="91.98" y="2066.05" font-size="20.09" fill="#262626" stroke="#262626" text-anchor="end">0.0</text>
<line x1="228.05" y1="2083.9" x2="228.05" y2="2090.86" stroke="#3a3a3a" stroke-width="1.99"/>
<text x="228.05" y="2113.64" font-size="20.09" fill="#262626" stroke="#262626" text-anchor="middle">0.1</text>
<line x1="99.34" y1="2008.38" x2="106.3" y2="2008.38" stroke="#3a3a3a" stroke-width="1.99"/>
<text x="91.98" y="2015.7" font-size="20.09" fill="#262626" stroke="#262626" text-anchor="end">0.1</text>
<line x1="309.21" y1="2083.9" x2="309.21" y2="2090.86" stroke="#3a3a3a" stroke-width="1.99"/>
<text x="309.21" y="2113.64" font-size="20.09" fill="#262626" stroke="#262626" text-anchor="middle">0.2</text>
<line x1="99.34" y1="1958.04" x2="106.3" y2="1958.04" stroke="#3a3a3a" stroke-width="1.99"/>
<text x="91.98" y="1965.36" font-size="20.09" fill="#262626" stroke="#262626" text-anchor="end">0.2</text>
<line x1="390.37" y1="2083.9" x2="390.37" y2="2090.86" stroke="#3a3a3a" stroke-width="1.99"/>
<text x="390.37" y="2113.64" font-size="20.09" fill="#262626" stroke="#262626" text-anchor="middle">0.3</text>
<line x1="99.34" y1="1907.69" x2="106.3" y2="1907.69" stroke="#3a3a3a" stroke-width="1.99"/>
<text x="91.98" y="1915.01" font-size="20.09" fill="#262626" stroke="#262626" text-anchor="end">0.3</text>
<line x1="471.54" y1="2083.9" x2="471.54" y2="2090.86" stroke="#3a3a3a" stroke-width="1.99"/>
<text x="471.54" y="2113.64" font-size="20.09" fill="#262626" stroke="#262626" text-anchor="middle">0.4</text>
<line x1="99.34" y1="1857.35" x2="106.3" y2="1857.35" stroke="#3a3a3a" stroke-width="1.99"/>
<text x="91.98" y="1864.67" font-size="20.09" fill="#262626" stroke="#262626" text-anchor="end">0.4</text>
<line x1="552.7" y1="2083.9" x2="552.7" y2="2090.86" stroke="#3a3a3a" stroke-width="1.99"/>
<text x="552.7" y="2113.64" font-size="20.09" fill="#262626" stroke="#262626" text-anchor="middle">0.5</text>
<line x1="99.34" y1="1807" x2="106.3" y2="1807" stroke="#3a3a3a" stroke-width="1.99"/>
<text x="91.98" y="1814.32" font-size="20.09" fill="#262626" stroke="#262626" text-anchor="end">0.5</text>
<line x1="633.86" y1="2083.9" x2="633.86" y2="2090.86" stroke="#3a3a3a" stroke-width="1.99"/>
<text x="633.86" y="2113.64" font-size="20.09" fill="#262626" stroke="#262626" text-anchor="middle">0.6</text>
<line x1="99.34" y1="1756.65" x2="106.3" y2="1756.65" stroke="#3a3a3a" stroke-width="1.99"/>
<text x="91.98" y="1763.98" font-size="20.09" fill="#262626" stroke="#262626" text-anchor="end">0.6</text>
<line x1="715.03" y1="2083.9" x2="715.03" y2="2090.86" stroke="#3a3a3a" stroke-width="1.99"/>
<text x="715.03" y="2113.64" font-size="20.09" fill="#262626" stroke="#262626" text-anchor="middle">0.7</text>
<line x1="99.34" y1="1706.31" x2="106.3" y2="1706.31" stroke="#3a3a3a" stroke-width="1.99"/>
<text x="91.98" y="1713.63" font-size="20.09" fill="#262626" stroke="#262626" text-anchor="end">0.7</text>
<line x1="796.19" y1="2083.9" x2="796.19" y2="2090.86" stroke="#3a3a3a" stroke-width="1.99"/>
<text x="796.19" y="2113.64" font-size="20.09" fill="#262626" stroke="#262626" text-anchor="middle">0.8</text>
<line x1="99.34" y1="1655.96" x2="106.3" y2="1655.96" stroke="#3a3a3a" stroke-width="1.99"/>
<text x="91.98" y="1663.29" font-size="20.09" fill="#262626" stroke="#262626" text-anchor="end">0.8</text>
<line x1="877.35" y1="2083.9" x2="877.35" y2="2090.86" stroke="#3a3a3a" stroke-width="1.99"/>
<text x="877.35" y="2113.64" font-size="20.09" fill="#262626" stroke="#262626" text-anchor="middle">0.9</text>
<line x1="99.34" y1="1605.62" x2="106.3" y2="1605.62" stroke="#3a3a3a" stroke-width="1.99"/>
<text x="91.98" y="1612.94" font-size="20.09" fill="#262626" stroke="#262626" text-anchor="end">0.9</text>
<line x1="958.52" y1="2083.9" x2="958.52" y2="2090.86" stroke="#3a3a3a" stroke-width="1.99"/>
<text x="958.52" y="2113.64" font-size="20.09" fill="#262626" stroke="#262626" text-anchor="middle">1.0</text>
<line x1="99.34" y1="1555.27" x2="106.3" y2="1555.27" stroke="#3a3a3a" stroke-width="1.99"/>
<text x="91.98" y="1562.6" font-size="20.09" fill="#262626" stroke="#262626" text-anchor="end">1.0</text>
<text x="552.7" y="2140.19" font-size="20.09" fill="#262626" stroke="#262626" text-anchor="middle">False Positive Rate (FPR)</text>
<text x="47.62" y="1807" font-size="20.09" fill="#262626" stroke="#262626" text-anchor="middle" transform="rotate(-90 47.62 1807)">True Positive Rate (TPR)</text>
<text x="552.7" y="1517.77" font-size="40.02" fill="#111" stroke="#111" text-anchor="middle">Average ROC curve for classifier SVM</text>
<rect x="465.65" y="1977.69" width="523.5" height="96.27" rx="4.38" fill="#fff" fill-opacity="0.8" stroke="#ccc" stroke-width="1.99"/>
<line x1="473.61" y1="1993.9" x2="513.39" y2="1993.9" stroke="#299629" stroke-width="3.98" stroke-linecap="square"/>
<path d="M493.5,2016.67 L491.26,2023.54 L484.04,2023.54 L489.88,2027.79 L487.65,2034.66 L493.5,2030.42 L499.34,2034.66 L497.11,2027.79 L502.95,2023.54 L495.73,2023.54 Z" fill="#ff0000"/>
<rect x="473.61" y="2047.7" width="39.78" height="13.92" fill="#c8f7c8" stroke="#c8f7c8" stroke-width="1.99"/>
<text x="529.3" y="2000.76" font-size="20.09" fill="#262626" stroke="#262626">Avg. ROC (AUC (avg ± std) = 0.946 ± 0.020)</text>
<text x="529.3" y="2032.78" font-size="20.09" fill="#262626" stroke="#262626">Operating Point</text>
<text x="529.3" y="2060.83" font-size="20.09" fill="#262626" stroke="#262626">± 1 Standard deviation</text>
</g>
<text class="cap" x="0" y="0" font-size="37" fill="#000" stroke="#000" text-anchor="middle" transform="translate(509.6 731.2) scale(0.74 1.045)">(</text>
<text class="cap" x="526.3" y="731.9" font-size="37" fill="#000" stroke="#000" text-anchor="middle">e</text>
<text class="cap" x="0" y="0" font-size="37" fill="#000" stroke="#000" text-anchor="middle" transform="translate(543 731.2) scale(0.74 1.045)">)</text>
<text class="cap" x="0" y="0" font-size="37" fill="#000" stroke="#000" text-anchor="middle" transform="translate(513.5 1454.3) scale(0.74 1.045)">(</text>
<text class="cap" x="526.5" y="1455" font-size="37" fill="#000" stroke="#000" text-anchor="middle">f</text>
<text class="cap" x="0" y="0" font-size="37" fill="#000" stroke="#000" text-anchor="middle" transform="translate(538.6 1454.3) scale(0.74 1.045)">)</text>
<text class="cap" x="0" y="0" font-size="37" fill="#000" stroke="#000" text-anchor="middle" transform="translate(510.1 2196.5) scale(0.74 1.045)">(</text>
<text x="526.2" y="2197.2" font-size="38.5" fill="#000" stroke="#000" text-anchor="middle" style="font-family:'Liberation Serif',serif">g</text>
<text class="cap" x="0" y="0" font-size="37" fill="#000" stroke="#000" text-anchor="middle" transform="translate(542.4 2196.5) scale(0.74 1.045)">)</text>
<rect x="0" y="0" width="2.5" height="2212" fill="#000"/>
<rect x="1050.5" y="0" width="2.5" height="2212" fill="#000"/>
<rect x="0" y="0" width="1053" height="1.5" fill="#000"/>
<rect x="0" y="2209" width="1053" height="3" fill="#000"/>
<rect x="0" y="690.35" width="1053" height="1.3" fill="#222"/>
<rect x="0" y="742.55" width="1053" height="2.3" fill="#000"/>
<rect x="0" y="1413.65" width="1053" height="2.3" fill="#000"/>
<rect x="0" y="1466.75" width="1053" height="1.3" fill="#222"/>
<rect x="0" y="2156.1" width="1053" height="2.4" fill="#000"/>
</svg></body></html>
